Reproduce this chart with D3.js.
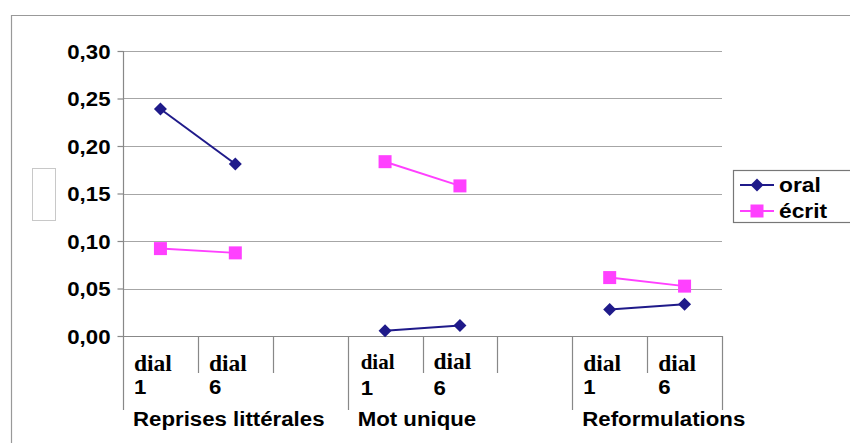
<!DOCTYPE html>
<html><head><meta charset="utf-8">
<script src="https://cdn.jsdelivr.net/npm/d3@7"></script>
<style>body{margin:0;background:#fff}svg{display:block}</style>
</head><body>
<script>
const groups = ["Reprises littérales", "Mot unique", "Reformulations"];
const subLabels = [["dial", "1"], ["dial", "6"]];
const series = ["oral", "écrit"];
const oral = [0.239, 0.181, 0.0055, 0.011, 0.028, 0.0335];
const ecrit = [0.092, 0.0875, 0.1835, 0.158, 0.0615, 0.0525];
const yTicks = [0, 0.05, 0.10, 0.15, 0.20, 0.25, 0.30];

const W = 850, H = 443;
const svg = d3.select("body").append("svg").attr("width", W).attr("height", H);
const font = "'Liberation Sans', Arial, sans-serif";
const serif = "'Liberation Serif', 'Times New Roman', serif";
const STRETCH = 1.14;
function stretch(sel) {
  sel.each(function() {
    const len = this.getComputedTextLength();
    d3.select(this).attr("textLength", len * STRETCH).attr("lengthAdjust", "spacingAndGlyphs");
  });
}

// slots: each group has its sub-categories plus a blank separator (except the last)
const slots = [];
groups.forEach((g, gi) => {
  subLabels.forEach((s, si) => slots.push({g: gi, s: si, key: gi + "-" + si}));
  if (gi < groups.length - 1) slots.push({g: gi, s: -1, key: gi + "-blank"});
});
const x = d3.scaleBand().domain(slots.map(d => d.key)).range([123, 722]).padding(0);
const y = d3.scaleLinear().domain([0, 0.3]).range([336, 51]);

// outer frame
svg.append("path").attr("d", `M11.5,${H+5} V15.5 H${W+5}`).attr("fill", "none").attr("stroke", "#999").attr("stroke-width", 1.2);
// small empty box
svg.append("rect").attr("x", 32.5).attr("y", 168.5).attr("width", 23).attr("height", 52)
  .attr("fill", "none").attr("stroke", "#c8c8c8").attr("stroke-width", 1);

// gridlines
svg.append("g").selectAll("line").data(yTicks.filter(t => t > 0)).join("line")
  .attr("x1", 123).attr("x2", 722).attr("y1", d => Math.round(y(d)) + 0.5).attr("y2", d => Math.round(y(d)) + 0.5)
  .attr("stroke", "#a6a6a6").attr("stroke-width", 1.2);

// y axis
const yAxis = d3.axisLeft(y).tickValues(yTicks).tickSize(6).tickPadding(7)
  .tickFormat(d => d3.format(".2f")(d).replace(".", ","));
const ya = svg.append("g").attr("transform", "translate(123.5,0)").call(yAxis);
ya.select(".domain").remove();
ya.selectAll(".tick line").attr("stroke", "#888").attr("stroke-width", 1.2);
ya.selectAll(".tick text").attr("font-family", font).attr("font-weight", "bold")
  .attr("font-size", 19.5).attr("fill", "#000").attr("dy", "0.36em").call(stretch);
svg.append("line").attr("x1", 123.5).attr("x2", 123.5).attr("y1", 51).attr("y2", 410)
  .attr("stroke", "#888").attr("stroke-width", 1.2);

// x axis baseline
svg.append("line").attr("x1", 123).attr("x2", 722).attr("y1", y(0) + 0.5).attr("y2", y(0) + 0.5)
  .attr("stroke", "#888").attr("stroke-width", 1.2);

// category separators
const bounds = slots.map((d, i) => ({x: x(d.key), long: i === 0 || (slots[i-1] && slots[i-1].g !== d.g)}));
bounds.push({x: x(slots[slots.length-1].key) + x.bandwidth(), long: true});
svg.append("g").selectAll("line").data(bounds.slice(1)).join("line")
  .attr("x1", d => Math.round(d.x) + 0.5).attr("x2", d => Math.round(d.x) + 0.5)
  .attr("y1", y(0)).attr("y2", d => d.long ? 410 : 373)
  .attr("stroke", "#888").attr("stroke-width", 1.2);

// sub-category labels
const subSlots = slots.filter(d => d.s >= 0);
const lab = svg.append("g").selectAll("g").data(subSlots).join("g")
  .attr("transform", d => `translate(${x(d.key) + (d.g === 1 && d.s === 0 ? 13 : 11)},0)`);
lab.append("text").attr("y", d => d.g === 1 ? 369 : 371)
  .attr("font-family", serif).attr("font-weight", "bold")
  .attr("font-size", d => d.g === 1 && d.s === 0 ? 21 : 23.5).text(d => subLabels[d.s][0]);
lab.append("text").attr("y", d => d.g === 1 ? 395 : 393.5)
  .attr("font-family", font).attr("font-weight", "bold").attr("font-size", 19.5).text(d => subLabels[d.s][1]).call(stretch);

// group labels
svg.append("g").selectAll("text").data(groups).join("text")
  .attr("x", (d, i) => x(i + "-0") + 10).attr("y", 425.5)
  .attr("font-family", font).attr("font-weight", "bold").attr("font-size", 19.5).text(d => d).call(stretch);

// series
const colors = {"oral": "#1f1a8a", "écrit": "#ff40ff"};
const values = {"oral": oral, "écrit": ecrit};
function marker(sel, name) {
  if (name === "oral") {
    sel.append("path").attr("d", "M0,-6.5 L6.5,0 L0,6.5 L-6.5,0 Z").attr("fill", colors[name]);
  } else {
    sel.append("rect").attr("x", -6.5).attr("y", -6.5).attr("width", 13).attr("height", 13).attr("fill", colors[name]);
  }
}
series.forEach(name => {
  const vals = values[name];
  const pts = subSlots.map((d, i) => ({g: d.g, x: x(d.key) + x.bandwidth() / 2, y: y(vals[i])}));
  const line = d3.line().x(d => d.x).y(d => d.y);
  groups.forEach((g, gi) => {
    svg.append("path").attr("d", line(pts.filter(p => p.g === gi)))
      .attr("fill", "none").attr("stroke", colors[name]).attr("stroke-width", 2);
  });
  svg.append("g").selectAll("g").data(pts).join("g")
    .attr("transform", d => `translate(${d.x},${d.y})`)
    .each(function() { marker(d3.select(this), name); });
});

// legend
svg.append("rect").attr("x", 733.5).attr("y", 170.5).attr("width", 130).attr("height", 52)
  .attr("fill", "#fff").attr("stroke", "#777").attr("stroke-width", 1.2);
const leg = svg.append("g").selectAll("g").data(series).join("g")
  .attr("transform", (d, i) => `translate(0,${185 + i * 26})`);
leg.append("line").attr("x1", 740).attr("x2", 774).attr("stroke", d => colors[d]).attr("stroke-width", 2);
leg.each(function(d) { const g = d3.select(this).append("g").attr("transform", "translate(757,0)"); marker(g, d); });
leg.append("text").attr("x", 779).attr("y", 6.5).attr("font-family", font).attr("font-weight", "bold")
  .attr("font-size", 20).text(d => d).call(stretch);
</script>
</body></html>
